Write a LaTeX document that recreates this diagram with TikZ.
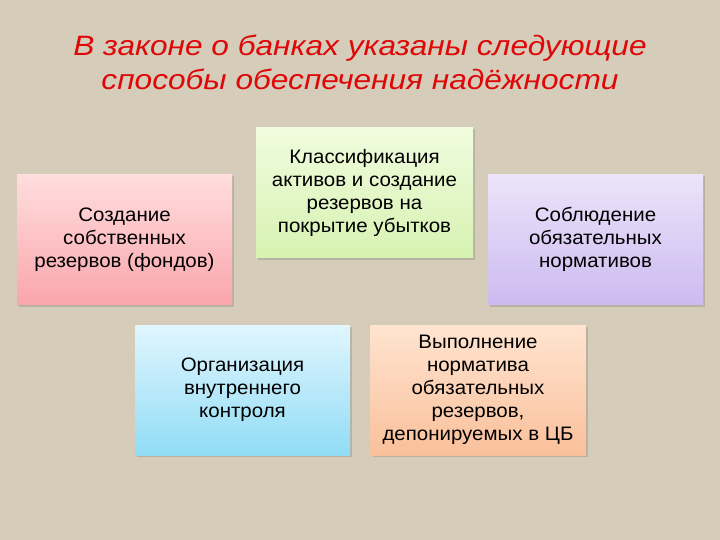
\documentclass[tikz,border=0pt]{standalone}
\usepackage{fontspec}
\setmainfont{Liberation Sans}
\newfontfamily\titlefont[FakeStretch=1.13]{Liberation Sans}
\newfontfamily\cardfont[FakeStretch=1.05]{Liberation Sans}
\usetikzlibrary{shadows}
\definecolor{linen}{RGB}{214,204,186}
\definecolor{titlered}{RGB}{222,8,8}
\tikzset{
  card/.style={minimum width=215pt, minimum height=130pt, align=center,
    inner sep=4pt, font=\cardfont\fontsize{19.5}{23}\selectfont,
    drop shadow={shadow xshift=2pt, shadow yshift=-2pt, opacity=.25, fill=black!60}},
}
\begin{document}
\begin{tikzpicture}[x=1pt,y=-1pt]
\fill[linen] (0,0) rectangle (720,540);
\useasboundingbox (0,0) rectangle (720,540);
\node (title) at (360,62) [align=center, text=titlered,
  font=\titlefont\fontsize{28}{34}\selectfont\itshape]
  {В законе о банках указаны следующие\\способы обеспечения надёжности};
\node (own) at (124.5,239.5) [card, top color={rgb,255:red,255;green,222;blue,222},
  bottom color={rgb,255:red,250;green,165;blue,172}]
  {Создание\\собственных\\резервов (фондов)};
\node (assets) at (364.5,192.5) [card, minimum width=217pt,
  top color={rgb,255:red,240;green,252;blue,222},
  bottom color={rgb,255:red,215;green,242;blue,178}]
  {Классификация\\активов и создание\\резервов на\\покрытие убытков};
\node (norms) at (595.5,239.5) [card, top color={rgb,255:red,236;green,228;blue,250},
  bottom color={rgb,255:red,205;green,186;blue,240}]
  {Соблюдение\\обязательных\\нормативов};
\node (control) at (242.5,390) [card, top color={rgb,255:red,225;green,246;blue,255},
  bottom color={rgb,255:red,145;green,220;blue,245}]
  {Организация\\внутреннего\\контроля};
\node (reserve) at (478,390) [card, top color={rgb,255:red,255;green,228;blue,208},
  bottom color={rgb,255:red,250;green,192;blue,155}]
  {Выполнение\\норматива\\обязательных\\резервов,\\депонируемых в ЦБ};
\end{tikzpicture}
\end{document}
